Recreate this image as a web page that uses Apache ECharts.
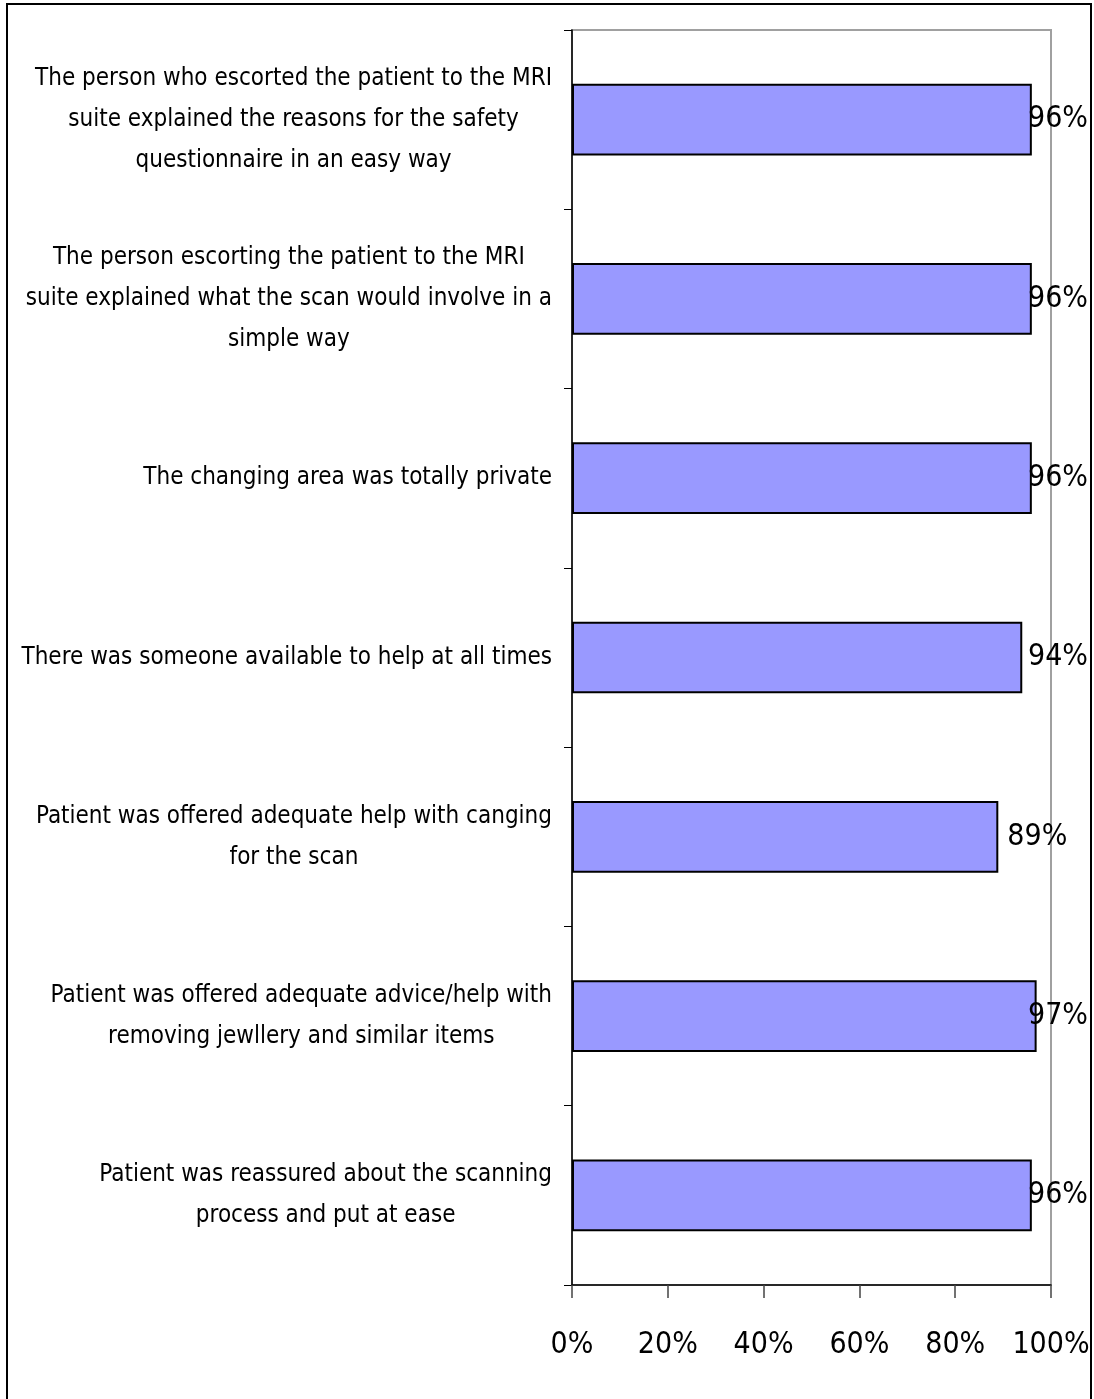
<!DOCTYPE html>
<html>
<head>
<meta charset="utf-8">
<script src="https://cdn.jsdelivr.net/npm/echarts@6/dist/echarts.min.js"></script>
<style>
html,body{margin:0;padding:0;background:#fff;}
#main{width:1094px;height:1399px;}
</style>
</head>
<body>
<div id="main"></div>
<script>
const categories = [
  "The person who escorted the patient to the MRI\nsuite explained the reasons for the safety\nquestionnaire in an easy way",
  "The person escorting the patient to the MRI\nsuite explained what the scan would involve in a\nsimple way",
  "The changing area was totally private",
  "There was someone available to help at all times",
  "Patient was offered adequate help with canging\nfor the scan",
  "Patient was offered adequate advice/help with\nremoving jewllery and similar items",
  "Patient was reassured about the scanning\nprocess and put at ease"
];
const values = [0.96, 0.96, 0.96, 0.94, 0.89, 0.97, 0.96];
const tickLabels = ["0%", "20%", "40%", "60%", "80%", "100%"];

const FONT = '"DejaVu Sans Condensed", "Liberation Sans", sans-serif';
const chart = echarts.init(document.getElementById('main'), null, {renderer: 'canvas'});
const option = {
  backgroundColor: '#fff',
  animation: false,
  graphic: [{
    type: 'rect',
    shape: {x: 7, y: 4, width: 1084, height: 1420},
    style: {fill: 'none', stroke: '#000', lineWidth: 2},
    z: 100
  }],
  grid: {
    left: 572, right: 43, top: 30, bottom: 114,
    containLabel: false, outerBoundsMode: 'none',
    show: true, borderColor: '#a0a0a0', borderWidth: 2, backgroundColor: 'transparent'
  },
  xAxis: {
    type: 'value', min: 0, max: 1, interval: 0.2,
    splitLine: {show: false},
    axisLine: {show: true, lineStyle: {color: '#000', width: 1.5}},
    axisTick: {show: true, length: 13, lineStyle: {color: '#444', width: 1.5}},
    axisLabel: {
      margin: 45, color: '#000', fontSize: 30, fontFamily: FONT,
      hideOverlap: false, showMaxLabel: true, showMinLabel: true,
      formatter: function (v) { return tickLabels[Math.round(v / 0.2)]; }
    }
  },
  yAxis: {
    type: 'category', inverse: true, data: categories,
    axisLine: {show: true, lineStyle: {color: '#000', width: 1.5}},
    axisTick: {show: true, length: 8, lineStyle: {color: '#000', width: 1}},
    axisLabel: {
      margin: 20, color: '#000', align: 'right', interval: 0,
      formatter: function (v) {
        return v.split('\n').map(function (s) { return '{c|' + s + '}'; }).join('\n');
      },
      rich: {
        c: {align: 'center', fontSize: 24, lineHeight: 41, fontFamily: FONT, color: '#000'}
      }
    }
  },
  series: [{
    type: 'bar',
    data: values,
    barCategoryGap: '60%',
    itemStyle: {color: '#9999ff', borderColor: '#000', borderWidth: 2},
    label: {
      show: true, position: 'right', distance: 9,
      color: '#000', fontSize: 30, fontFamily: FONT,
      formatter: function (p) { return Math.round(p.value * 100) + '%'; }
    },
    labelLayout: function (params) {
      const r = params.labelRect;
      const limit = 1088;
      if (r.x + r.width > limit) {
        return {x: limit - r.width, y: r.y + r.height / 2, align: 'left', verticalAlign: 'middle'};
      }
      return {};
    }
  }]
};
chart.setOption(option);
</script>
</body>
</html>
